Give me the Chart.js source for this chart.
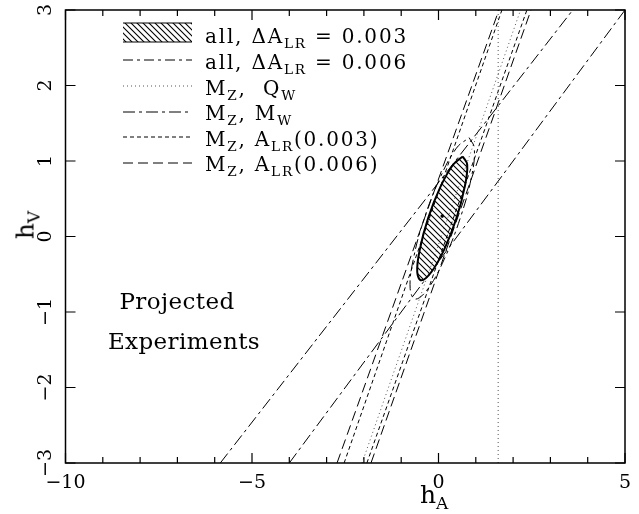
<!DOCTYPE html>
<html><head><meta charset="utf-8">
<script src="https://cdn.jsdelivr.net/npm/chart.js@4/dist/chart.umd.min.js"></script>
<style>
html,body{margin:0;padding:0;background:#fff;}
#wrap{position:relative;width:639px;height:514px;overflow:hidden;}
canvas{position:absolute;left:0;top:0;}
.t{position:absolute;font-family:"DejaVu Serif",serif;color:#000;white-space:nowrap;line-height:1;}
.t sub{font-size:0.68em;vertical-align:baseline;position:relative;top:0.38em;}
.leg{font-size:20px;letter-spacing:1.8px;left:205px;}
.ann{font-size:23px;letter-spacing:0.4px;text-align:center;width:200px;}
</style></head>
<body><div id="wrap"><canvas id="c" width="639" height="514"></canvas></div>
<script>
// ---- tick labels ----
const xTickValues = [-10, -5, 0, 5];
const xTickLabels = ['\u221210', '\u22125', '0', '5'];
const xMinorTickValues = [-9, -8, -7, -6, -4, -3, -2, -1, 1, 2, 3, 4];
const yTickValues = [-3, -2, -1, 0, 1, 2, 3];
const yTickLabels = ['\u22123', '\u22122', '\u22121', '0', '1', '2', '3'];

// ---- series names ----
const seriesNames = [
  'all, \u0394A_{LR} = 0.003',
  'all, \u0394A_{LR} = 0.006',
  'M_{Z},\u00a0 Q_{W}',
  'M_{Z}, M_{W}',
  'M_{Z}, A_{LR}(0.003)',
  'M_{Z}, A_{LR}(0.006)'
];

// ---- all, dA_LR = 0.003 (hatched contour) ----
const all003HA = [0.65, 0.77, 0.70, 0.48, 0.155, -0.19, -0.46, -0.57, -0.50, -0.28, 0.045, 0.39, 0.65];
const all003HV = [1.06, 0.95, 0.65, 0.24, -0.17, -0.47, -0.58, -0.47, -0.17, 0.24, 0.65, 0.95, 1.06];
// ---- all, dA_LR = 0.006 (outer contour) ----
const all006HA = [0.82, 0.96, 0.88, 0.58, 0.155, -0.28, -0.62, -0.76, -0.675, -0.38, 0.045, 0.48, 0.82];
const all006HV = [1.31, 1.17, 0.78, 0.24, -0.30, -0.69, -0.83, -0.69, -0.30, 0.24, 0.78, 1.17, 1.31];
// ---- central value ----
const centerHA = [0.10];
const centerHV = [0.27];
// ---- M_Z, Q_W ----
const qwVertHA = [1.6, 1.6];
const qwVertHV = [-3, 3];
const qwSteepHA = [-2.05, 2.2];
const qwSteepHV = [-3, 3];
// ---- M_Z, M_W ----
const mwLeftHA = [-5.85, 3.6];
const mwLeftHV = [-3, 3];
const mwRightHA = [-4.0, 5.0];
const mwRightHV = [-3, 3];
// ---- M_Z, A_LR(0.003) ----
const alr003LeftHA = [-2.53, 1.70];
const alr003RightHA = [-1.92, 2.37];
const alr003HV = [-3, 3];
// ---- M_Z, A_LR(0.006) ----
const alr006LeftHA = [-2.72, 1.62];
const alr006RightHA = [-1.81, 2.48];
const alr006HV = [-3, 3];

const zip = (xs, ys) => xs.map((x, i) => ({x: x, y: ys[i]}));
const toHTML = s => s.replace(/_\{([^}]*)\}/g, '<sub>$1</sub>');

const canvas = document.getElementById('c');
const ctx0 = canvas.getContext('2d');
function makeHatch() {
  const c = document.createElement('canvas');
  c.width = 6; c.height = 6;
  const g = c.getContext('2d');
  g.strokeStyle = '#000'; g.lineWidth = 1.1;
  g.beginPath();
  g.moveTo(-1, -1); g.lineTo(7, 7);
  g.moveTo(-1, 5); g.lineTo(1, 7);
  g.moveTo(5, -1); g.lineTo(7, 1);
  g.stroke();
  return ctx0.createPattern(c, 'repeat');
}
const hatch = makeHatch();

const DASHDOT = [10, 4, 3, 4], DOT = [1, 3], CHAIN = [12, 4, 3, 4], SHORT = [4, 3], LONG = [10, 5];

function lineDS(label, xs, ys, dash, color, width) {
  return {label: label, data: zip(xs, ys), showLine: true, borderColor: color || '#000',
    borderWidth: width || 1, borderDash: dash, pointRadius: 0, fill: false, tension: 0};
}

const datasets = [
  {label: seriesNames[0], data: zip(all003HA, all003HV), showLine: true, borderColor: '#000', borderWidth: 2,
   backgroundColor: hatch, fill: 'shape', pointRadius: 0, tension: 0.4},
  Object.assign(lineDS(seriesNames[1], all006HA, all006HV, DASHDOT), {tension: 0.4}),
  lineDS(seriesNames[2], qwVertHA, qwVertHV, DOT, '#555'),
  lineDS(seriesNames[2], qwSteepHA, qwSteepHV, DOT, '#555'),
  lineDS(seriesNames[3], mwLeftHA, mwLeftHV, CHAIN),
  lineDS(seriesNames[3], mwRightHA, mwRightHV, CHAIN),
  lineDS(seriesNames[4], alr003LeftHA, alr003HV, SHORT),
  lineDS(seriesNames[4], alr003RightHA, alr003HV, SHORT),
  lineDS(seriesNames[5], alr006LeftHA, alr006HV, LONG),
  lineDS(seriesNames[5], alr006RightHA, alr006HV, LONG),
  {label: 'central', data: zip(centerHA, centerHV), showLine: false, pointRadius: 1.8,
   pointBackgroundColor: '#000', pointBorderWidth: 0}
];

const frame = {
  id: 'frame',
  afterDatasetsDraw(chart) {
    const ctx = chart.ctx, a = chart.chartArea, xs = chart.scales.x, ys = chart.scales.y;
    ctx.save();
    ctx.strokeStyle = '#000'; ctx.setLineDash([]);
    ctx.lineWidth = 1.5;
    ctx.strokeRect(a.left, a.top, a.right - a.left, a.bottom - a.top);
    ctx.lineWidth = 1.2;
    ctx.beginPath();
    const xt = (v, len) => { const p = xs.getPixelForValue(v);
      ctx.moveTo(p, a.bottom); ctx.lineTo(p, a.bottom - len);
      ctx.moveTo(p, a.top); ctx.lineTo(p, a.top + len); };
    xTickValues.forEach(v => xt(v, 10));
    xMinorTickValues.forEach(v => xt(v, 6));
    yTickValues.forEach(v => { const p = ys.getPixelForValue(v);
      ctx.moveTo(a.left, p); ctx.lineTo(a.left + 10, p);
      ctx.moveTo(a.right, p); ctx.lineTo(a.right - 10, p); });
    ctx.stroke();
    // legend swatches
    ctx.lineWidth = 1;
    ctx.fillStyle = hatch;
    ctx.fillRect(123, 23, 69, 19);
    ctx.beginPath(); ctx.moveTo(123, 23); ctx.lineTo(192, 23); ctx.moveTo(123, 42); ctx.lineTo(192, 42); ctx.stroke();
    const rows = [[60, DASHDOT, '#000'], [86, DOT, '#555'], [112, CHAIN, '#000'], [137, SHORT, '#000'], [163, LONG, '#000']];
    rows.forEach(r => { ctx.strokeStyle = r[2]; ctx.setLineDash(r[1]); ctx.beginPath();
      ctx.moveTo(123, r[0]); ctx.lineTo(192, r[0]); ctx.stroke(); });
    ctx.restore();
  }
};

const tickFont = {family: 'DejaVu Serif', size: 19};
const chart = new Chart(canvas, {
  type: 'scatter',
  data: {datasets: datasets},
  options: {
    responsive: false, animation: false, devicePixelRatio: 1,
    layout: {padding: {top: 10, right: 14, left: 0, bottom: 0}},
    plugins: {legend: {display: false}, tooltip: {enabled: false}},
    scales: {
      x: {type: 'linear', min: -10, max: 5,
        grid: {display: false, drawTicks: false}, border: {display: false},
        afterBuildTicks: s => { s.ticks = xTickValues.map(v => ({value: v})); },
        afterFit: s => { s.height = 51; s.paddingLeft = 0; s.paddingRight = 0; },
        ticks: {padding: 9, font: tickFont, color: '#000', maxRotation: 0, minRotation: 0, autoSkip: false,
          callback: v => xTickLabels[xTickValues.indexOf(v)]}},
      y: {type: 'linear', min: -3, max: 3,
        grid: {display: false, drawTicks: false}, border: {display: false},
        afterBuildTicks: s => { s.ticks = yTickValues.map(v => ({value: v})); },
        afterFit: s => { s.width = 65.5; s.paddingTop = 0; s.paddingBottom = 0; },
        ticks: {padding: 5, font: tickFont, color: '#000', minRotation: 90, maxRotation: 90, crossAlign: 'center', autoSkip: false,
          callback: v => yTickLabels[yTickValues.indexOf(v)]}}
    }
  },
  plugins: [frame]
});

// ---- real-text overlays ----
const wrap = document.getElementById('wrap');
function addText(html, cls, style) {
  const d = document.createElement('div');
  d.className = 't ' + cls; d.innerHTML = html;
  Object.assign(d.style, style);
  wrap.appendChild(d);
  return d;
}
const legendBaselines = [43, 69, 95, 120, 146, 171];
seriesNames.forEach((n, i) => addText(toHTML(n), 'leg', {top: (legendBaselines[i] - 17) + 'px'}));
addText('Projected', 'ann', {top: '290px', left: '77px'});
addText('Experiments', 'ann', {top: '330px', left: '84px'});
addText('h<sub>A</sub>', '', {left: '420px', top: '482px', fontSize: '25px'});
addText('h<sub>V</sub>', '', {left: '25px', top: '225px', fontSize: '25px', transform: 'translate(-50%,-50%) rotate(-90deg)'});
</script>
</body></html>
